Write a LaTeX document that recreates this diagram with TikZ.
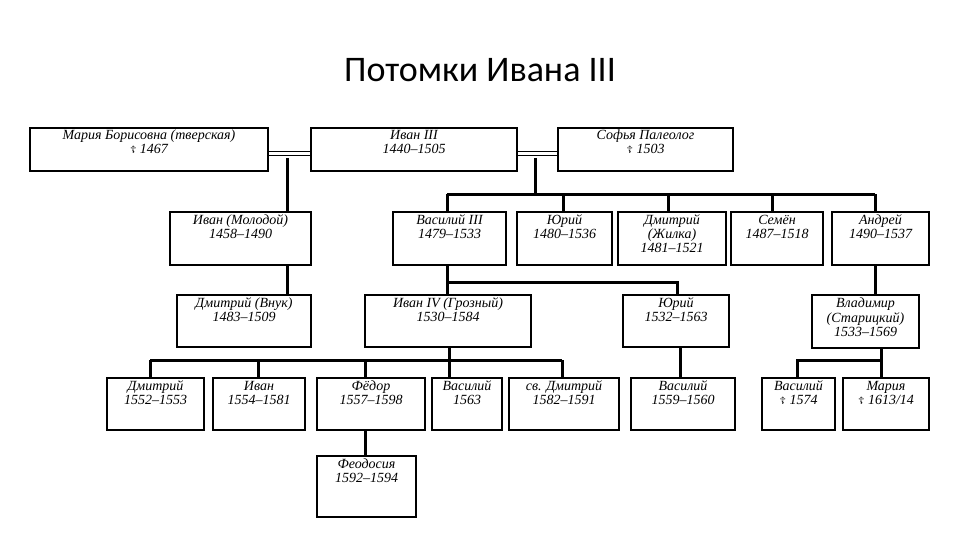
\documentclass[tikz,border=0pt]{standalone}
\usepackage{fontspec}
\setmainfont{Liberation Serif}
\newfontfamily\titlefont{Carlito}
\newfontfamily\symfont{DejaVu Sans}
\newcommand\dcross{{\symfont\fontsize{10}{10}\selectfont ☦}}
\newcommand\famBox[6]{\draw[box] (#2,#3) rectangle (#4,#5);
  \node[lbl] (#1) at ({(#2+#4)/2},{#3+2}) {\strut #6};
  \coordinate (#1t) at ({(#2+#4)/2},#3);}
\begin{document}
\begin{tikzpicture}[x=1pt,y=-1pt,
  box/.style={draw,line width=1.4pt},
  lbl/.style={anchor=north,align=center,font=\itshape\fontsize{14}{14}\selectfont,inner sep=0pt},
  link/.style={line width=3pt},
  wed/.style={line width=1pt}]
\useasboundingbox[fill=white] (0,0) rectangle (960,540);
\node[font=\titlefont\fontsize{36}{36}\selectfont] (title) at (480,70) {Потомки Ивана III};
\famBox{maria}{30}{128}{268}{171}{Мария Борисовна (тверская)\\\dcross\ 1467}
\famBox{ivan3}{311}{128}{517}{171}{Иван III\\1440--1505}
\famBox{sofia}{558}{128}{733}{171}{Софья Палеолог\\\dcross\ 1503}
\famBox{ivanm}{170}{212}{311}{265}{Иван (Молодой)\\1458--1490}
\famBox{vas3}{393}{212}{506}{265}{Василий III\\1479--1533}
\famBox{yuri}{517}{212}{612}{265}{Юрий\\1480--1536}
\famBox{dmz}{618}{212}{726}{265}{Дмитрий\\(Жилка)\\1481--1521}
\famBox{sem}{731}{212}{823}{265}{Семён\\1487--1518}
\famBox{andr}{832}{212}{929}{265}{Андрей\\1490--1537}
\famBox{dmv}{177}{295}{311}{347}{Дмитрий (Внук)\\1483--1509}
\famBox{ivan4}{365}{295}{531}{347}{Иван IV (Грозный)\\1530--1584}
\famBox{yuri2}{623}{295}{729}{347}{Юрий\\1532--1563}
\famBox{vlad}{812}{295}{919}{348}{Владимир\\(Старицкий)\\1533--1569}
\famBox{dm1}{107}{378}{204}{430}{Дмитрий\\1552--1553}
\famBox{iv1}{213}{378}{305}{430}{Иван\\1554--1581}
\famBox{fed}{317}{378}{425}{430}{Фёдор\\1557--1598}
\famBox{vas1}{432}{378}{502}{430}{Василий\\1563}
\famBox{svd}{509}{378}{619}{430}{св. Дмитрий\\1582--1591}
\famBox{vas2}{631}{378}{735}{430}{Василий\\1559--1560}
\famBox{vas4}{762}{378}{835}{430}{Василий\\\dcross\ 1574}
\famBox{mar2}{843}{378}{929}{430}{Мария\\\dcross\ 1613/14}
\famBox{feod}{317}{456}{416}{517}{Феодосия\\1592--1594}
\draw[wed] (268,152) -- (311,152) (268,156) -- (311,156);
\draw[wed] (517,152) -- (558,152) (517,156) -- (558,156);
\coordinate (w1) at (287,158); \coordinate (w2) at (535,158);
\draw[link] (w1) -- (w1|-ivanmt);
\draw[link] (w2) -- (535,194);
\draw[link] (447,194) -- (875,194);
\draw[link] (447,194) -- (447,212);
\draw[link] (563,194) -- (563,212);
\draw[link] (668,194) -- (668,212);
\draw[link] (772,194) -- (772,212);
\draw[link] (875,194) -- (875,212);
\draw[link] (287,265) -- (287,295);
\draw[link] (447,265) -- (447,295);
\draw[link] (447,282) -- (677,282) -- (677,295);
\draw[link] (875,265) -- (875,295);
\draw[link] (449,347) -- (449,378);
\draw[link] (150,360) -- (562,360);
\foreach \x in {150,258,365,562} \draw[link] (\x,360) -- (\x,378);
\draw[link] (680,347) -- (680,378);
\draw[link] (881,348) -- (881,378);
\draw[link] (797,378) -- (797,360) -- (881,360);
\draw[link] (365,430) -- (365,456);
\end{tikzpicture}
\end{document}
